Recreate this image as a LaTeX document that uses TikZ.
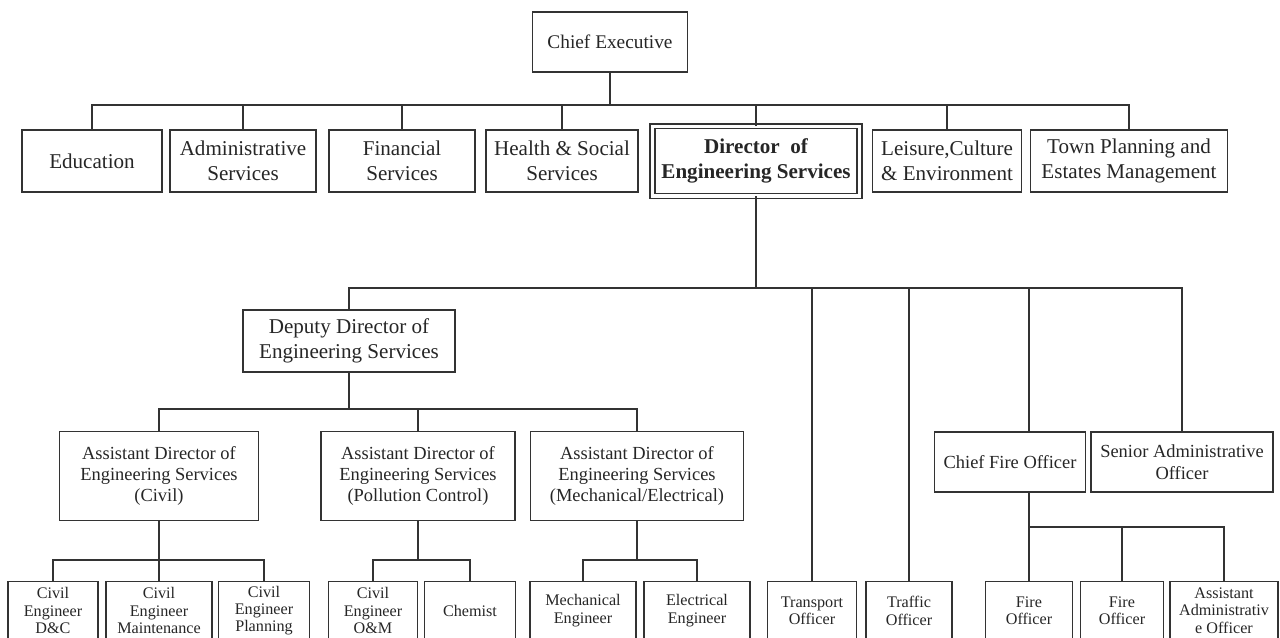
\documentclass[tikz,border=0pt]{standalone}
\usepackage{fontspec}
\setmainfont{Liberation Serif}
\usetikzlibrary{positioning}

\begin{document}
\begin{tikzpicture}[
    x=0.02cm, y=-0.02cm,
    box/.style={draw=black!80, line width=0.8pt, align=center, inner sep=1pt, text=black!85},
    big/.style={box, font=\fontsize{12}{14.5}\selectfont, minimum height=1.24cm},
    mid/.style={box, font=\fontsize{10.5}{12.2}\selectfont},
    low/.style={box, font=\fontsize{9.2}{9.9}\selectfont, minimum height=1.16cm, anchor=north},
    line/.style={line width=0.8pt, draw=black!80}
]
\useasboundingbox (0,0) rectangle (1280,637);
\clip (0,0) rectangle (1280,637);

% Top
\node[big, minimum width=3.1cm, minimum height=1.2cm, font=\fontsize{11}{13}\selectfont] (ce) at (610,42) {Chief Executive};

% Departments
\node[big, minimum width=2.8cm] (edu) at (92,161) {Education};
\node[big, minimum width=2.92cm] (adm) at (243,161) {Administrative\\Services};
\node[big, minimum width=2.92cm] (fin) at (402,161) {Financial\\Services};
\node[big, minimum width=3.04cm] (hss) at (562,161) {Health \& Social\\Services};
\node[big, double, double distance=2pt, minimum width=4.14cm, minimum height=1.39cm, font=\fontsize{12}{14.5}\selectfont\bfseries] (des) at (756,161) {Director~ of\\Engineering Services};
\node[big, minimum width=2.98cm] (lce) at (947,161) {Leisure,Culture\\\& Environment};
\node[big, minimum width=3.94cm] (tpe) at (1129,161) {Town Planning and\\Estates Management};

\coordinate (b1) at (610,105);
\draw[line] (ce.south) -- (b1);
\draw[line] (edu.north) |- (b1) -| (tpe.north);
\draw[line] (adm.north) -- (adm.north |- b1);
\draw[line] (fin.north) -- (fin.north |- b1);
\draw[line] (hss.north) -- (hss.north |- b1);
\draw[line] (des.north) -- (des.north |- b1);
\draw[line] (lce.north) -- (lce.north |- b1);

% Engineering services
\node[big, minimum width=4.24cm] (dde) at (349,341) {Deputy Director of\\Engineering Services};
\node[mid, minimum width=3.98cm, minimum height=1.78cm] (adc) at (159,476) {Assistant Director of\\Engineering Services\\(Civil)};
\node[mid, minimum width=3.88cm, minimum height=1.78cm] (adp) at (418,476) {Assistant Director of\\Engineering Services\\(Pollution Control)};
\node[mid, minimum width=4.26cm, minimum height=1.78cm] (ade) at (637,476) {Assistant Director of\\Engineering Services\\(Mechanical/Electrical)};
\node[mid, minimum width=3.02cm, minimum height=1.2cm] (cfo) at (1010,462) {Chief Fire Officer};
\node[mid, minimum width=3.64cm, minimum height=1.2cm] (sao) at (1182,462) {Senior Administrative\\Officer};

% Bottom row (cut by the lower edge)
\node[low, minimum width=1.8cm] (ced) at (53,581) {Civil\\Engineer\\D\&C};
\node[low, minimum width=2.12cm] (cem) at (159,581) {Civil\\Engineer\\Maintenance};
\node[low, minimum width=1.82cm] (cep) at (264,581) {Civil\\Engineer\\Planning};
\node[low, minimum width=1.78cm] (ceo) at (373,581) {Civil\\Engineer\\O\&M};
\node[low, minimum width=1.82cm] (chm) at (470,581) {Chemist};
\node[low, minimum width=2.12cm] (mee) at (583,581) {Mechanical\\Engineer};
\node[low, minimum width=2.12cm] (ele) at (697,581) {Electrical\\Engineer};
\node[low, minimum width=1.78cm] (tpo) at (812,581) {Transport\\Officer};
\node[low, minimum width=1.72cm] (tro) at (909,581) {Traffic\\Officer};
\node[low, minimum width=1.74cm] (fo1) at (1029,581) {Fire\\Officer};
\node[low, minimum width=1.66cm] (fo2) at (1122,581) {Fire\\Officer};
\node[low, minimum width=2.16cm] (aao) at (1224,581) {Assistant\\Administrativ\\e Officer};

\coordinate (b2) at (756,288);
\draw[line] (des.south) -- (b2);
\draw[line] (dde.north) |- (b2) -| (sao.north);
\draw[line] (tpo.north) -- (tpo.north |- b2);
\draw[line] (tro.north) -- (tro.north |- b2);
\draw[line] (fo1.north |- cfo.north) -- (fo1.north |- b2);

\coordinate (b3) at (349,409);
\draw[line] (dde.south) -- (b3);
\draw[line] (adc.north) |- (b3) -| (ade.north);
\draw[line] (adp.north) -- (adp.north |- b3);

\coordinate (bc) at (159,560);
\draw[line] (adc.south) -- (bc);
\draw[line] (ced.north) |- (bc) -| (cep.north);
\draw[line] (cem.north) -- (cem.north |- bc);

\coordinate (bp) at (418,560);
\draw[line] (adp.south) -- (bp);
\draw[line] (ceo.north) |- (bp) -| (chm.north);

\coordinate (bm) at (637,560);
\draw[line] (ade.south) -- (bm);
\draw[line] (mee.north) |- (bm) -| (ele.north);

\coordinate (bf) at (1029,527);
\draw[line] (fo1.north |- cfo.south) -- (bf);
\draw[line] (fo1.north) |- (bf) -| (aao.north);
\draw[line] (fo2.north) -- (fo2.north |- bf);

\end{tikzpicture}
\end{document}
